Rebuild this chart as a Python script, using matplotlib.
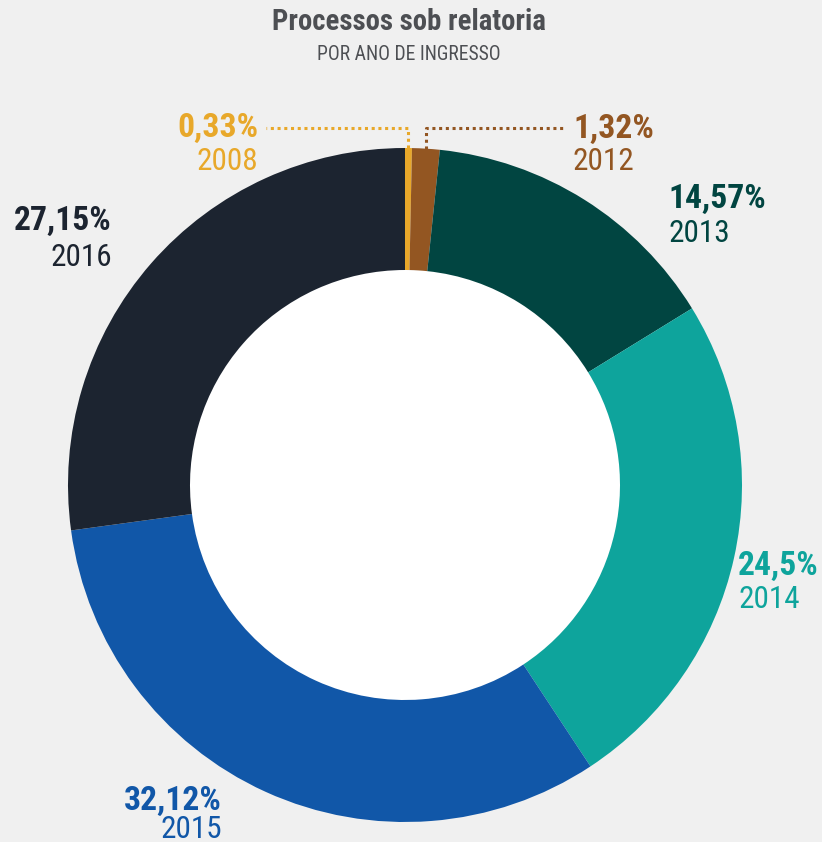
import numpy as np
import matplotlib
matplotlib.use('Agg')
import matplotlib.pyplot as plt
from matplotlib import font_manager as fm

years = ['2008', '2012', '2013', '2014', '2015', '2016']
shares = [0.33, 1.32, 14.57, 24.5, 32.12, 27.15]
share_labels = ['0,33%', '1,32%', '14,57%', '24,5%', '32,12%', '27,15%']
colors = ['#e8a82a', '#935622', '#014541', '#0ea49c', '#1157a8', '#1c2430']

BG = '#f0f0f0'
W, H = 822, 842

# the original uses a condensed face; take the narrowest one that is installed
installed = {f.name for f in fm.fontManager.ttflist}
prefs = ['Roboto Condensed', 'Liberation Sans Narrow', 'Open Sans Condensed',
         'Noto Sans Condensed', 'Roboto', 'DejaVu Sans']
families = [f for f in prefs if f in installed] or ['DejaVu Sans']
if 'DejaVu Sans' not in families:
    families.append('DejaVu Sans')
plt.rcParams['font.family'] = families

fig = plt.figure(figsize=(W / 100, H / 100), dpi=100, facecolor=BG)
ax = fig.add_axes([0, 0, 1, 1])
ax.set_facecolor(BG)

def Y(y):
    # pixel rows measured from the top
    return H - y

renderer = fig.canvas.get_renderer()

def fit_size(s, size, target, **kw):
    # font size that gives the text roughly the width it has in the original
    t = fig.text(0, 0, s, fontsize=size, **kw)
    w = t.get_window_extent(renderer).width
    t.remove()
    return size * target / w

pct_size = min(28, fit_size('27,15%', 26, 98, fontweight='bold'))
year_size = min(27, fit_size('2016', 25, 62))
title_size = fit_size('Processos sob relatoria', 16, 273, fontweight='bold')
sub_size = fit_size('POR ANO DE INGRESSO', 12, 183)

cx, cy, r_out, r_in = 405, 485, 337, 215
wedges, _ = ax.pie(shares, colors=colors, startangle=90, counterclock=False,
                   center=(cx, Y(cy)), radius=r_out,
                   wedgeprops=dict(width=r_out - r_in, linewidth=0))
ax.add_patch(plt.Circle((cx, Y(cy)), r_in, color='white', zorder=0.5))
ax.set_xlim(0, W)
ax.set_ylim(0, H)
ax.set_aspect('equal')
ax.axis('off')

# label placement: (x, y of percent, y of year, ha)
label_pos = [
    (258, 128, 161, 'right'),
    (573, 129, 162, 'left'),
    (668, 199, 233, 'left'),
    (738, 566, 600, 'left'),
    (222, 801, 829, 'right'),
    (112, 221, 258, 'right'),
]
for lab, yr, c, (x, yp, yy, ha) in zip(share_labels, years, colors, label_pos):
    ax.text(x, Y(yp), lab, ha=ha, va='center', fontsize=pct_size, fontweight='bold', color=c)
    ax.text(x, Y(yy), yr, ha=ha, va='center', fontsize=year_size, color=c)

# dotted leader lines for the two thin slices
line_y = Y(128)
for i, x_end in [(0, 266), (1, 563)]:
    w = wedges[i]
    ang = np.deg2rad((w.theta1 + w.theta2) / 2)
    x0 = cx + r_out * np.cos(ang)
    y0 = Y(cy) + r_out * np.sin(ang)
    ax.plot([x0, x0, x_end], [y0, line_y, line_y], color=colors[i],
            linestyle=(0, (1, 1.2)), linewidth=2.2, solid_capstyle='butt')

ax.text(409, Y(22), 'Processos sob relatoria', ha='center', va='center',
        fontsize=title_size, fontweight='bold', color='#4d4f53')
ax.text(409, Y(54), 'POR ANO DE INGRESSO', ha='center', va='center',
        fontsize=sub_size, color='#4d4f53')

fig.savefig('out.png', dpi=100, facecolor=BG)
